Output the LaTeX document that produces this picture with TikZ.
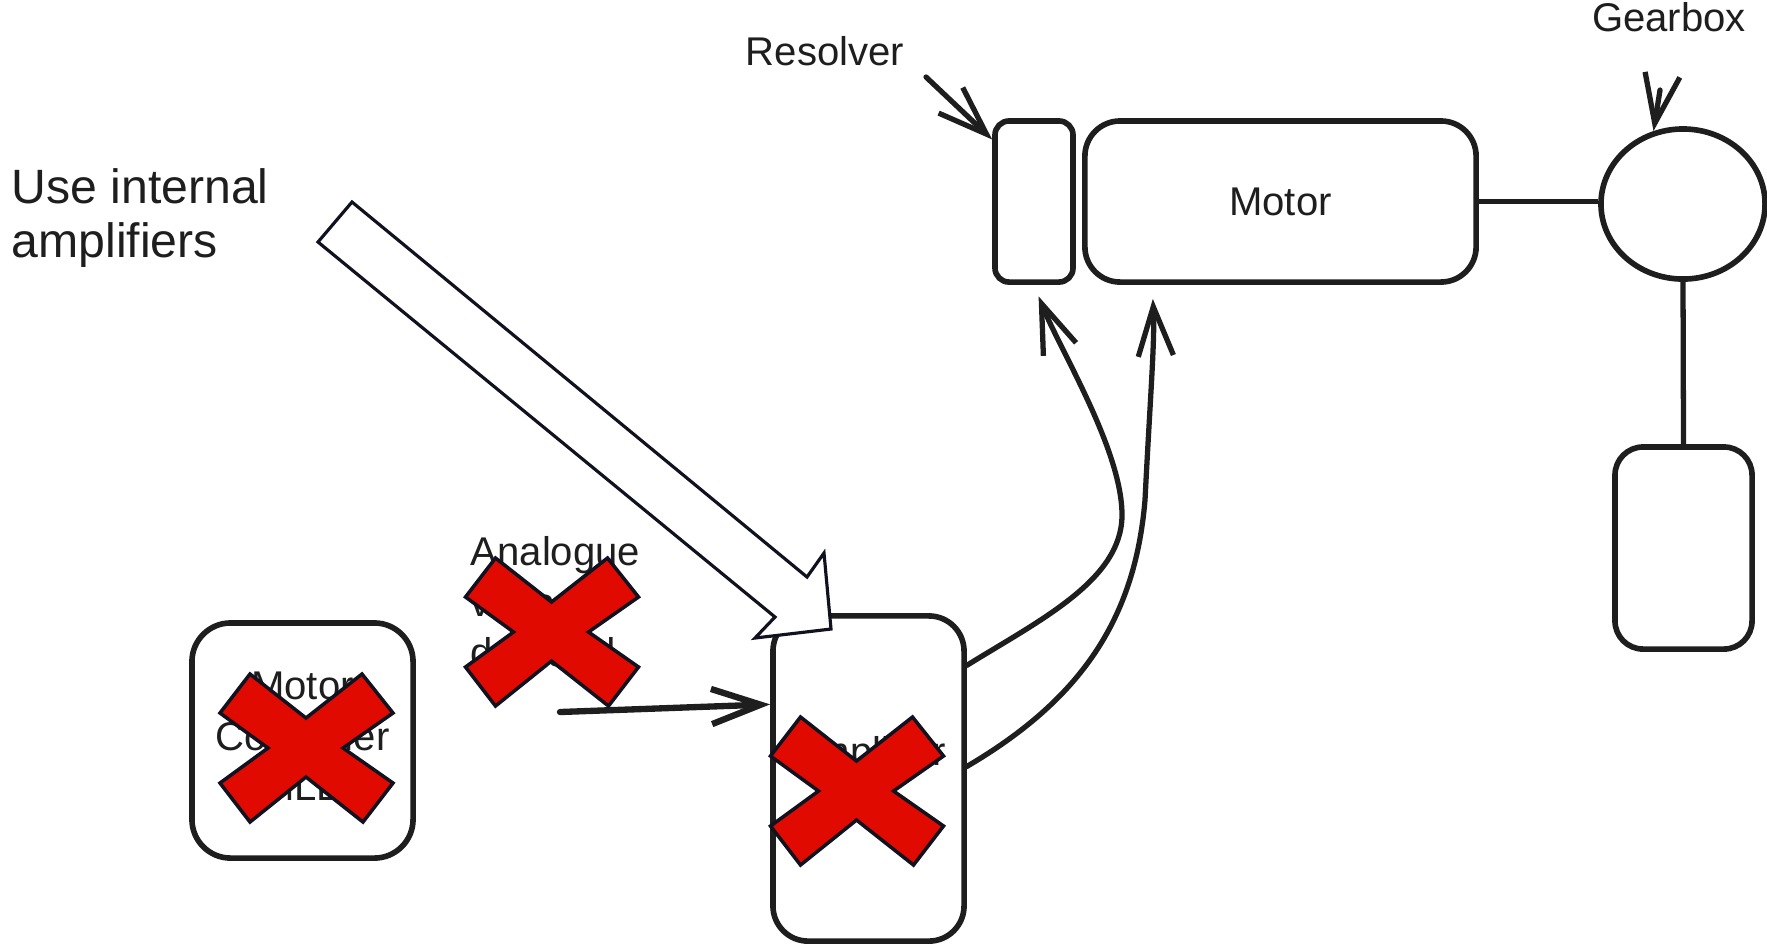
\documentclass[tikz,border=0pt]{standalone}
\usepackage{fontspec}
\setmainfont{Liberation Sans}
\usetikzlibrary{arrows.meta, positioning, calc, shapes.geometric}
\definecolor{ink}{HTML}{1E1E1E}
\definecolor{crossred}{HTML}{E00A00}
\definecolor{crossline}{HTML}{10121F}

\begin{document}
\begin{tikzpicture}[
  x=0.01cm, y=-0.01cm,
  box/.style={draw=ink, line width=1.6pt, rounded corners=10pt, fill=white, inner sep=0pt},
  txt/.style={inner sep=0pt, text=ink, font=\fontsize{11.4}{14.3}\selectfont},
  arrow/.style={-{Straight Barb[length=14pt, width=10pt]}, line width=1.5pt, draw=ink, line cap=round},
  link/.style={line width=1.5pt, draw=ink},
  xmark/.pic={\draw[crossline, line width=1pt, fill=crossred, line join=miter]
    (-56,-74) -- (0,-30) -- (56,-74) -- (87,-35) -- (37,0) -- (87,35) -- (57,74)
    -- (0,29) -- (-56,74) -- (-86,35) -- (-38,0) -- (-86,-35) -- cycle;}]
  \useasboundingbox (0,0) rectangle (1767,944);

  % drive train
  \node[box, rounded corners=4pt, minimum width=0.78cm, minimum height=1.61cm] (res) at (1034,201.5) {};
  \node[box, txt, minimum width=3.91cm, minimum height=1.61cm] (motor) at (1280.5,201.5) {Motor};
  \node[draw=ink, line width=1.6pt, ellipse, minimum width=1.64cm, minimum height=1.5cm, inner sep=0pt] (gear) at (1683,204) {};
  \node[box, rounded corners=8pt, minimum width=1.37cm, minimum height=2.02cm] (load) at (1683.5,548) {};
  \node[txt] (reslabel) at (825,51) {Resolver};
  \node[txt] (gblabel) at (1669,17) {Gearbox};

  % controller side
  \node[box, txt, rounded corners=11pt, align=center, minimum width=2.21cm, minimum height=2.35cm] (mc) at (302.5,740.5) {Motor\\Controller\\(MLE)};
  \node[box, minimum width=1.91cm, minimum height=3.25cm] (amp) at (868.5,778.5) {};
  \node[txt] (amptext) at (868,755) {Amplifier};
  \node[txt, align=left, anchor=north west] (ana) at (470,536) {Analogue\\voltage\\demand};
  \node[txt, align=left, anchor=north west, font=\fontsize{13.7}{15.4}\selectfont] (note) at (11,168) {Use internal\\amplifiers};

  \coordinate (restail) at (926,77);
  \coordinate (gbtail) at (1660,90);
  \coordinate (anatail) at (560,712);

  \draw[link] (motor.east) -- (motor.east -| gear.west);
  \draw[link] (gear.south) -- (load.north);
  \draw[arrow] (restail) -- (res.124);
  \draw[arrow] (gbtail) -- (gear.112);
  \draw[arrow, line width=1.8pt] (anatail) -- (amp.143);
  \draw[arrow, shorten >=3.5pt] (amp.49) .. controls (1040,620) and (1122,580) .. (1122,515)
    .. controls (1122,450) and (1060,350) .. (res.south);
  \draw[arrow, shorten >=4pt] (amp.7) .. controls (1080,700) and (1135,620) .. (1145,500)
    .. controls (1150,400) and (1155,340) .. ([xshift=0.7cm]motor.south west);

  % hollow pointer
  \draw[crossline, line width=0.9pt, fill=white, line join=miter]
    (352,202) -- (807,577) -- (824,553) -- (831,629) -- (755,638) -- (775,617) -- (318,242) -- cycle;

  % crossed out
  \pic (mcx) at (306,748) {xmark};
  \pic (anax) at (551.5,632) {xmark};
  \pic (ampx) at (856.5,791) {xmark};
\end{tikzpicture}
\end{document}
